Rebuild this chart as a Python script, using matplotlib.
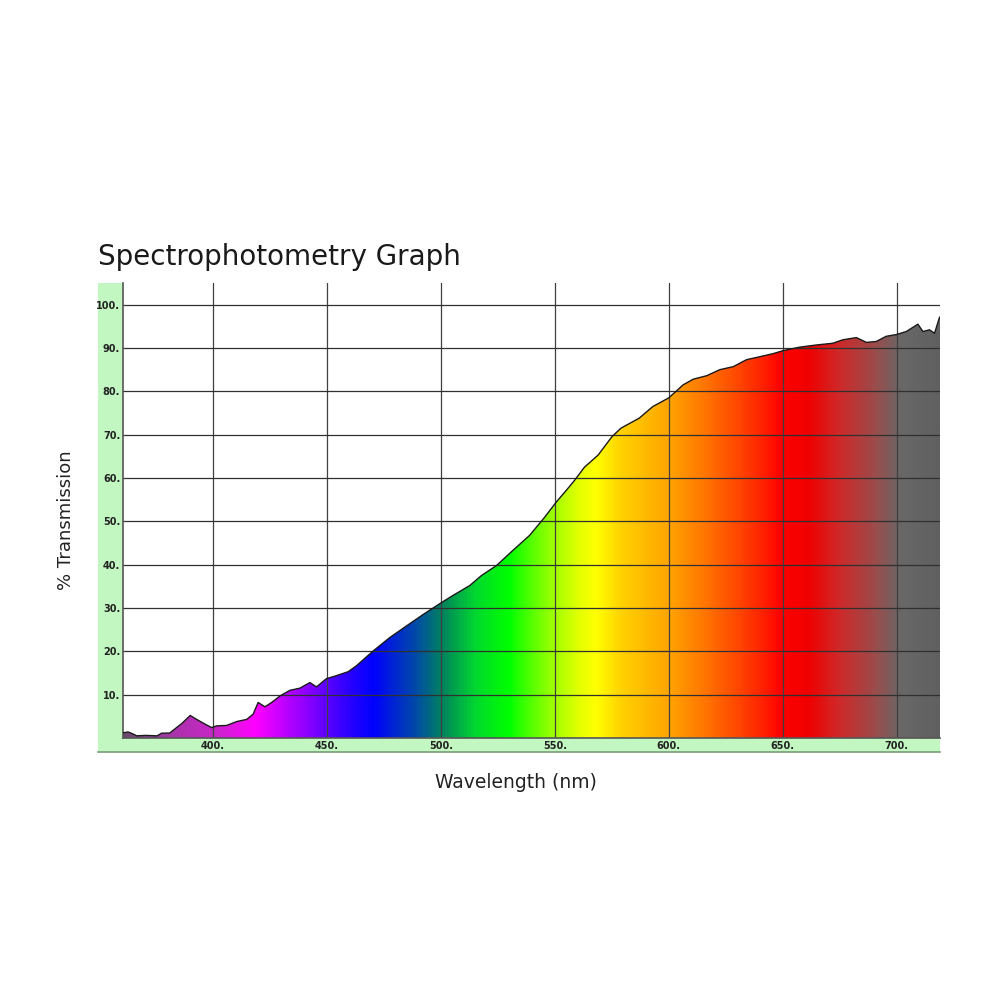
import numpy as np
import matplotlib
matplotlib.use("Agg")
import matplotlib.pyplot as plt
from matplotlib.colors import LinearSegmentedColormap
from matplotlib.patches import Polygon

# ---- data ----
wavelength = [360.6, 362.7, 365.0, 366.5, 370.4, 375.5, 377.4, 381.0, 384.0, 386.2,
              390.0, 392.8, 396.5, 399.4, 401.6, 406.0, 410.4, 414.8, 417.6, 419.8,
              422.8, 425.7, 429.4, 433.7, 438.1, 442.5, 445.4, 449.8, 454.2, 459.3,
              463.0, 470.3, 477.6, 485.0, 492.2, 499.5, 505.3, 512.7, 517.8, 524.4,
              531.6, 539.0, 545.6, 550.7, 555.1, 558.7, 563.0, 569.0, 575.0, 579.0,
              587.0, 593.0, 600.0, 606.3, 610.7, 616.6, 622.4, 628.3, 634.1, 640.0,
              645.8, 650.2, 657.5, 664.8, 672.0, 676.4, 682.3, 686.7, 691.0, 695.4,
              699.8, 704.2, 709.3, 711.5, 714.4, 716.6, 718.8]
transmission = [1.2, 1.4, 0.9, 0.5, 0.6, 0.5, 1.1, 1.15, 2.4, 3.3,
                5.2, 4.3, 3.2, 2.4, 2.8, 2.9, 3.8, 4.3, 5.5, 8.2,
                7.2, 8.2, 9.7, 11.0, 11.5, 12.8, 11.8, 13.7, 14.4, 15.3,
                16.7, 20.1, 23.2, 25.9, 28.5, 31.0, 32.9, 35.2, 37.5, 39.8,
                43.3, 46.8, 51.0, 54.5, 57.2, 59.5, 62.5, 65.3, 69.5, 71.5,
                73.8, 76.5, 78.5, 81.5, 82.8, 83.6, 85.0, 85.7, 87.3, 88.0,
                88.7, 89.4, 90.2, 90.7, 91.1, 91.9, 92.4, 91.3, 91.5, 92.7,
                93.1, 93.8, 95.5, 93.8, 94.2, 93.4, 97.1]

x_ticks = [400, 450, 500, 550, 600, 650, 700]
x_tick_labels = ["400.", "450.", "500.", "550.", "600.", "650.", "700."]
y_ticks = [10, 20, 30, 40, 50, 60, 70, 80, 90, 100]
y_tick_labels = ["10.", "20.", "30.", "40.", "50.", "60.", "70.", "80.", "90.", "100."]

# spectrum colour stops (nm, colour)
stop_nm = [360, 370, 385, 400, 418, 440, 458, 470, 490, 500, 515, 530, 545, 560,
           568, 580, 600, 620, 640, 650, 662, 675, 690, 703, 719]
stop_col = ["#6a4a6a", "#8a4490", "#b030b0", "#c828c8", "#ff00ff", "#9000ff",
            "#3000ff", "#0000ff", "#0050a0", "#008060", "#00d830", "#00ff00",
            "#80ff00", "#e0ff00", "#ffff00", "#ffd000", "#ffa500", "#ff6a00",
            "#ff2800", "#ff0000", "#f00000", "#d02828", "#a04848", "#686868",
            "#606060"]

XMIN, XMAX = 360.5, 719.0
YMIN, YMAX = 0, 105

fig = plt.figure(figsize=(10, 10), dpi=100)

# green frame (background axes)
bg = fig.add_axes([0.098, 0.248, 0.842, 0.469])
bg.set_facecolor("#c2f7c2")
bg.set_xticks([])
bg.set_yticks([])
for s in ["top", "right", "left"]:
    bg.spines[s].set_visible(False)
bg.spines["bottom"].set_color("#7a9a7a")
bg.spines["bottom"].set_linewidth(1.2)

ax = fig.add_axes([0.123, 0.262, 0.817, 0.455])
ax.set_facecolor("white")

# gradient fill clipped to the curve
pos = [(n - stop_nm[0]) / (stop_nm[-1] - stop_nm[0]) for n in stop_nm]
cmap = LinearSegmentedColormap.from_list("spec", list(zip(pos, stop_col)))
grad = np.linspace(0, 1, 1000).reshape(1, -1)
im = ax.imshow(grad, cmap=cmap, aspect="auto",
               extent=[stop_nm[0], stop_nm[-1], YMIN, YMAX], zorder=1,
               interpolation="bilinear")
verts = [(XMIN, 0), (XMIN, transmission[0])] + list(zip(wavelength, transmission)) + \
        [(XMAX, transmission[-1]), (XMAX, 0)]
clip = Polygon(verts, closed=True, transform=ax.transData, facecolor="none", edgecolor="none")
ax.add_patch(clip)
im.set_clip_path(clip)
ax.set_xlim(XMIN, XMAX)
ax.set_ylim(YMIN, YMAX)

ax.plot(wavelength, transmission, color="#1a1a1a", lw=1.0, zorder=3)

# grid
for xv in x_ticks:
    ax.axvline(xv, color="#404040", lw=0.9, zorder=2)
for yv in y_ticks:
    ax.axhline(yv, color="#303030", lw=0.9, zorder=2)

ax.set_xticks(x_ticks)
ax.set_xticklabels(x_tick_labels, fontweight="bold")
ax.set_yticks(y_ticks)
ax.set_yticklabels(y_tick_labels, fontweight="bold")
ax.tick_params(axis="both", length=0, labelsize=7, labelcolor="#222222")
ax.tick_params(axis="x", pad=2)
ax.tick_params(axis="y", pad=2)

for s in ["top", "right"]:
    ax.spines[s].set_visible(False)
ax.spines["left"].set_color("#555555")
ax.spines["bottom"].set_color("#555555")
ax.spines["left"].set_linewidth(1.2)
ax.spines["bottom"].set_linewidth(1.2)

fig.text(0.098, 0.735, "Spectrophotometry Graph", fontsize=20, color="#1a1a1a",
         ha="left", va="baseline")
fig.text(0.066, 0.480, "% Transmission", fontsize=13, color="#222222",
         rotation=90, ha="center", va="center")
fig.text(0.516, 0.218, "Wavelength (nm)", fontsize=13.5, color="#222222",
         ha="center", va="center")

fig.savefig("out.png", dpi=100)
